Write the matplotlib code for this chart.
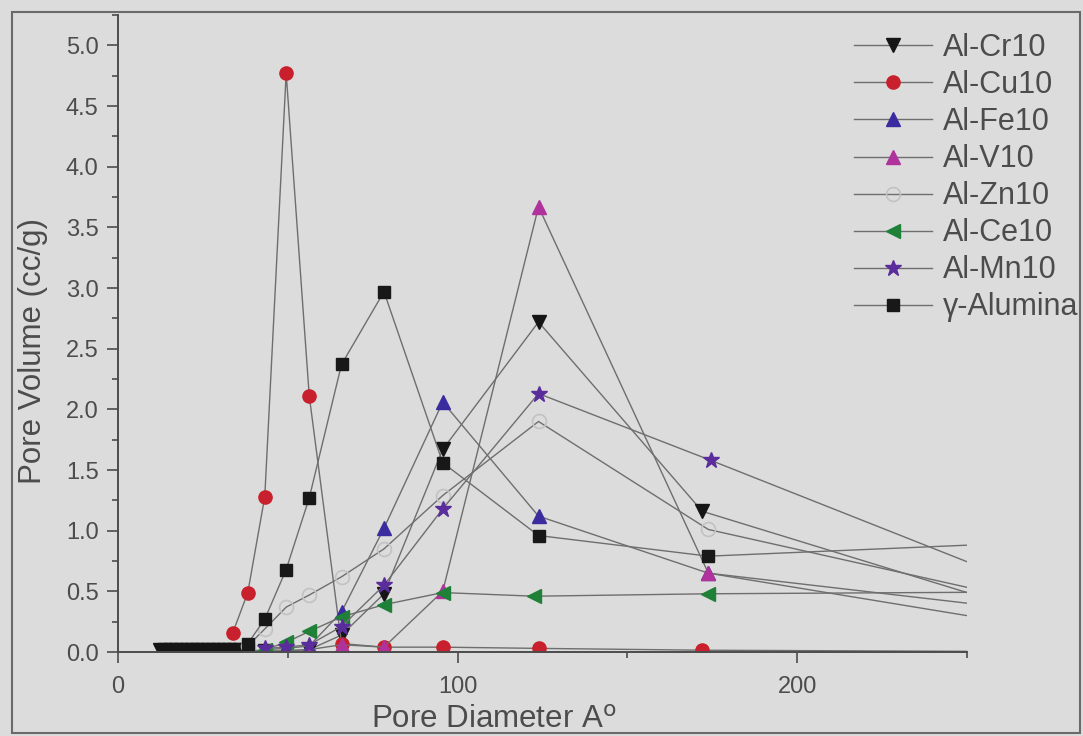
import matplotlib
matplotlib.use('Agg')
import matplotlib.pyplot as plt
from matplotlib.ticker import MultipleLocator

plt.rcParams['font.family'] = ['Liberation Sans', 'DejaVu Sans']

# BJH pore diameters (A) and pore volumes (cc/g)
# last point of each series lies past the axis end, only its line shows
d_cr = [12.4, 13.9, 15.5, 17.0, 18.6, 20.2, 21.7, 23.3, 24.8, 26.4, 28.0, 29.5,
        31.1, 32.7, 34.2, 35.8, 43.2, 49.5, 56.3, 65.8, 78.3, 95.6, 123.8, 172.0, 300]
v_cr = [0.02, 0.02, 0.02, 0.02, 0.02, 0.02, 0.02, 0.02, 0.02, 0.02, 0.02, 0.02,
        0.02, 0.02, 0.02, 0.02, 0.01, 0.01, 0.02, 0.14, 0.48, 1.67, 2.72, 1.16, 0.06]

d_cu = [33.8, 38.2, 43.2, 49.5, 56.3, 65.8, 78.3, 95.6, 123.8, 172.0, 300]
v_cu = [0.16, 0.49, 1.28, 4.77, 2.11, 0.07, 0.04, 0.04, 0.03, 0.015, 0.0]

d_fe = [43.2, 49.5, 56.3, 65.8, 78.3, 95.6, 123.8, 173.8, 300]
v_fe = [0.02, 0.03, 0.05, 0.33, 1.02, 2.06, 1.12, 0.65, 0.24]

d_v = [49.5, 56.3, 65.8, 78.3, 95.6, 123.8, 173.8, 300]
v_v = [0.01, 0.02, 0.06, 0.04, 0.50, 3.67, 0.65, 0.07]

d_zn = [38.2, 43.2, 49.5, 56.3, 65.8, 78.3, 95.6, 123.8, 173.8, 300]
v_zn = [0.05, 0.19, 0.37, 0.47, 0.62, 0.85, 1.29, 1.90, 1.01, 0.22]

d_ce = [43.2, 49.5, 56.3, 65.8, 78.3, 95.6, 122.5, 173.8, 300]
v_ce = [0.02, 0.08, 0.17, 0.29, 0.39, 0.49, 0.46, 0.48, 0.50]

d_mn = [43.2, 49.5, 56.3, 65.8, 78.3, 95.6, 123.8, 174.5, 300]
v_mn = [0.03, 0.04, 0.06, 0.21, 0.55, 1.18, 2.13, 1.58, 0.19]

d_al = [38.2, 43.2, 49.5, 56.3, 65.8, 78.3, 95.6, 123.8, 173.8, 300]
v_al = [0.07, 0.27, 0.68, 1.27, 2.37, 2.97, 1.56, 0.96, 0.79, 0.94]

bg = '#dcdcdc'
txt = '#4c4c4c'
lijn = '#6e6e6e'

fig = plt.figure(figsize=(10.83, 7.36), dpi=100, facecolor=bg)
ax = fig.add_axes([0.109, 0.1141, 0.784, 0.8655], facecolor=bg)

stijl = dict(color=lijn, lw=1.0, clip_on=True)
ax.plot(d_cr, v_cr, marker='v', ms=10, mfc='#151515', mec='#151515', label='Al-Cr10', **stijl)
ax.plot(d_cu, v_cu, marker='o', ms=9.5, mfc='#c8202c', mec='#c8202c', label='Al-Cu10', **stijl)
ax.plot(d_fe, v_fe, marker='^', ms=10, mfc='#3a2c9e', mec='#3a2c9e', label='Al-Fe10', **stijl)
ax.plot(d_v, v_v, marker='^', ms=10, mfc='#b0329c', mec='#b0329c', label='Al-V10', **stijl)
ax.plot(d_zn, v_zn, marker='o', ms=10, mfc='none', mec='#c2c2c2', mew=1.2, label='Al-Zn10', **stijl)
ax.plot(d_ce, v_ce, marker='<', ms=10, mfc='#1f8038', mec='#1f8038', label='Al-Ce10', **stijl)
ax.plot(d_mn, v_mn, marker='*', ms=12, mfc='#5a2c9c', mec='#5a2c9c', label='Al-Mn10', **stijl)
ax.plot(d_al, v_al, marker='s', ms=8, mfc='#181818', mec='#181818', label='\u03b3-Alumina', **stijl)

ax.set_xlim(0, 250)
ax.set_ylim(0, 5.25)
ax.xaxis.set_major_locator(MultipleLocator(100))
ax.xaxis.set_minor_locator(MultipleLocator(50))
ax.yaxis.set_major_locator(MultipleLocator(0.5))
ax.yaxis.set_minor_locator(MultipleLocator(0.25))
ax.yaxis.set_major_formatter(plt.FormatStrFormatter('%.1f'))

for s in ['top', 'right']:
    ax.spines[s].set_visible(False)
for s in ['left', 'bottom']:
    ax.spines[s].set_color(txt)
    ax.spines[s].set_linewidth(1.4)

ax.tick_params(which='major', direction='out', length=8, width=1.2, color=txt,
               labelcolor=txt, labelsize=17)
ax.tick_params(which='minor', direction='out', length=4, width=1.2, color=txt)
ax.tick_params(axis='x', pad=9)
ax.tick_params(axis='y', pad=6)

ax.set_xlabel(r'Pore Diameter A$^{\mathrm{o}}$', fontsize=22.5, color=txt)
ax.set_ylabel('Pore Volume (cc/g)', fontsize=22.5, color=txt)
ax.xaxis.set_label_coords(0.443, -0.083)
ax.yaxis.set_label_coords(-0.083, 0.4725)

fig.legend(loc='upper left', bbox_to_anchor=(0.789, 0.955), frameon=False,
           fontsize=22, handlelength=2.55, handletextpad=0.35, labelspacing=0.23,
           borderpad=0, borderaxespad=0, labelcolor=txt)

# lijst rond de hele figuur
fig.add_artist(plt.Rectangle((0.0111, 0.004), 0.986, 0.98, transform=fig.transFigure,
                             fill=False, edgecolor='#6a6a6a', lw=1.5))

fig.savefig('out.png', dpi=100, facecolor=bg)
